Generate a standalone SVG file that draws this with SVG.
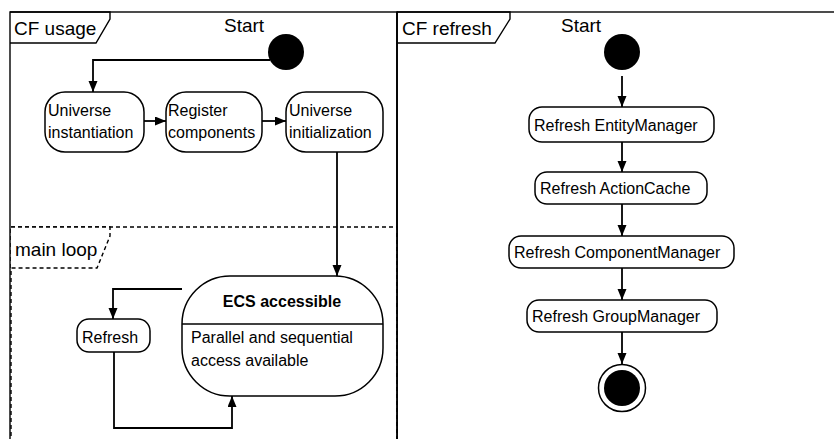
<svg xmlns="http://www.w3.org/2000/svg" width="834" height="439" viewBox="0 0 834 439">
<style>
  .frame{fill:none;stroke:#000;stroke-width:1.4}
  .dash{fill:#fff;stroke:#000;stroke-width:1.4;stroke-dasharray:4 3}
  .node{fill:#fff;stroke:#000;stroke-width:1.5}
  .t{font-family:"Liberation Sans",Arial,Helvetica,sans-serif;fill:#000}
  .lbl{font-size:19px}
  .nt{font-size:16px}
  .b{font-weight:bold}
  .edge{fill:none;stroke:#000;stroke-width:1.8}
</style>
<defs>
  <marker id="arr" markerUnits="userSpaceOnUse" markerWidth="12" markerHeight="10" refX="11" refY="4.5" orient="auto">
    <path d="M0,0 L11,4.5 L0,9 z" fill="#000"/>
  </marker>
</defs>
<rect width="834" height="439" fill="#fff"/>

<g id="frame-usage">
  <rect class="frame" x="10" y="12" width="387" height="460"/>
  <path class="frame" d="M10,12 H110 V19 L96,43 H10" fill="#fff"/>
  <text class="t lbl" x="14" y="35">CF usage</text>
  <text class="t lbl" x="224" y="32">Start</text>
</g>

<g id="frame-mainloop">
  <rect class="dash" x="11" y="227" width="386" height="240"/>
  <path class="dash" d="M11,227 H110 V236 L97,268 H11" fill="none"/>
  <text class="t lbl" x="15" y="256">main loop</text>
  <line class="frame" x1="397" y1="12" x2="397" y2="439"/>
</g>

<g id="frame-refresh">
  <rect class="frame" x="397" y="12" width="460" height="460"/>
  <path class="frame" d="M397,12 H510 V19 L495,43 H397" fill="#fff"/>
  <text class="t lbl" x="402" y="35">CF refresh</text>
  <text class="t lbl" x="561" y="32">Start</text>
</g>

<g id="start1"><circle cx="286" cy="52" r="18" fill="#000"/></g>

<g id="universe-instantiation">
  <rect class="node" x="45" y="92" width="99" height="60" rx="20"/>
  <text class="t nt" x="48" y="116">Universe</text>
  <text class="t nt" x="48" y="138">instantiation</text>
</g>
<g id="register-components">
  <rect class="node" x="166" y="92" width="96" height="60" rx="20"/>
  <text class="t nt" x="168" y="116">Register</text>
  <text class="t nt" x="168" y="138">components</text>
</g>
<g id="universe-initialization">
  <rect class="node" x="286" y="92" width="97" height="60" rx="20"/>
  <text class="t nt" x="289" y="116">Universe</text>
  <text class="t nt" x="289" y="138">initialization</text>
</g>

<g id="ecs-accessible">
  <rect class="node" x="182" y="276" width="201" height="120" rx="48"/>
  <line class="node" x1="182" y1="324" x2="383" y2="324"/>
  <text class="t nt b" x="282" y="307" text-anchor="middle">ECS accessible</text>
  <text class="t nt" x="191" y="343">Parallel and sequential</text>
  <text class="t nt" x="191" y="366">access available</text>
</g>
<g id="refresh">
  <rect class="node" x="77" y="319" width="73" height="33" rx="12"/>
  <text class="t nt" x="82" y="343">Refresh</text>
</g>

<g id="start2"><circle cx="622" cy="52" r="18" fill="#000"/></g>
<g id="refresh-entitymanager">
  <rect class="node" x="529" y="107" width="185" height="35" rx="13"/>
  <text class="t nt" x="534" y="131">Refresh EntityManager</text>
</g>
<g id="refresh-actioncache">
  <rect class="node" x="535" y="172" width="172" height="32" rx="12"/>
  <text class="t nt" x="540" y="194">Refresh ActionCache</text>
</g>
<g id="refresh-componentmanager">
  <rect class="node" x="509" y="236" width="225" height="32" rx="12"/>
  <text class="t nt" x="514" y="258">Refresh ComponentManager</text>
</g>
<g id="refresh-groupmanager">
  <rect class="node" x="527" y="300" width="190" height="32" rx="12"/>
  <text class="t nt" x="532" y="322">Refresh GroupManager</text>
</g>
<g id="end">
  <circle cx="622" cy="388" r="23.5" fill="#fff" stroke="#000" stroke-width="1.5"/>
  <circle cx="622" cy="388" r="18" fill="#000"/>
</g>

<g id="connectors">
  <path class="edge" d="M270,60 H93 V92" marker-end="url(#arr)"/>
  <path class="edge" d="M144,121 H166" marker-end="url(#arr)"/>
  <path class="edge" d="M262,121 H286" marker-end="url(#arr)"/>
  <path class="edge" d="M337,152 V276" marker-end="url(#arr)"/>
  <path class="edge" d="M182,289 H113 V319" marker-end="url(#arr)"/>
  <path class="edge" d="M114,352 V428 H232 V396" marker-end="url(#arr)"/>
  <path class="edge" d="M622,76 V107" marker-end="url(#arr)"/>
  <path class="edge" d="M622,142 V172" marker-end="url(#arr)"/>
  <path class="edge" d="M622,204 V236" marker-end="url(#arr)"/>
  <path class="edge" d="M622,268 V300" marker-end="url(#arr)"/>
  <path class="edge" d="M622,332 V364" marker-end="url(#arr)"/>
</g>
</svg>
